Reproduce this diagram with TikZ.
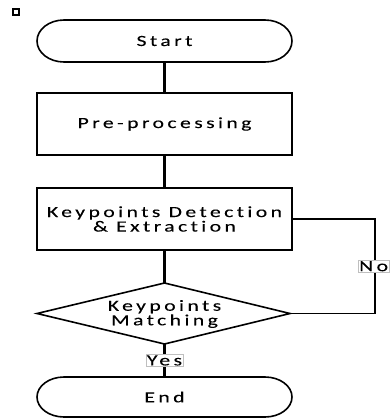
\documentclass[tikz,border=0pt]{standalone}
\usepackage{fontspec}
\setmainfont[FakeStretch=1.4,LetterSpace=22,FakeBold=0.1,Ligatures={NoCommon}]{Carlito}
\begin{document}
\begin{tikzpicture}[x=1pt,y=-1pt,
  box/.style={draw,line width=1.8pt,minimum width=255pt,minimum height=62pt,inner sep=0pt,align=center,font=\fontsize{15.5}{14.5}\selectfont},
  term/.style={inner sep=0pt,font=\fontsize{15.5}{14.5}\selectfont},
  conn/.style={line width=2.2pt},
  lbl/.style={draw=black!25,line width=0.4pt,fill=white,inner sep=1pt,font=\fontsize{15.5}{14.5}\selectfont}]
\useasboundingbox (0,0) rectangle (390,418);
% small square
\draw[line width=1.6pt] (13,9) rectangle (19,15);
% Start terminal
\draw[line width=1.6pt] (64,20) -- (265,20) arc[start angle=-90,end angle=90,x radius=27,y radius=21] -- (64,62) arc[start angle=90,end angle=270,x radius=27,y radius=21] -- cycle;
\node[term] (start) at (164.5,41) {Start};
\coordinate (startb) at (164.5,62);
% boxes
\node[box] (pre) at (164.5,124) {Pre-processing};
\node[box] (kde) at (164.5,219) {Keypoints Detection\\\& Extraction};
% diamond
\coordinate (dl) at (37,313.5);
\coordinate (dt) at (164.5,283);
\coordinate (dr) at (290,313.5);
\coordinate (db) at (164.5,344);
\draw[line width=1.6pt] (dl) -- (dt) -- (dr) -- (db) -- cycle;
\node[term,align=center] (match) at (164.5,314) {Keypoints\\Matching};
% End terminal
\draw[line width=1.6pt] (64,377) -- (265,377) arc[start angle=-90,end angle=90,x radius=27,y radius=20] -- (64,417) arc[start angle=90,end angle=270,x radius=27,y radius=20] -- cycle;
\node[term] (end) at (164.5,397) {End};
\coordinate (endt) at (164.5,377);
% connectors
\draw[conn] (startb) -- (pre.north);
\draw[conn] (pre.south) -- (kde.north);
\draw[conn] (kde.south) -- (dt);
\draw[conn] (db) -- node[lbl] (yes) {Yes} (endt);
\coordinate (c1) at (375,219);
\coordinate (c2) at (375,313.5);
\draw[line width=1.6pt] (kde.east) -- (c1) -- node[lbl,pos=0.5,anchor=west,xshift=-17pt] (no) {No} (c2) -- (dr);
\end{tikzpicture}
\end{document}
